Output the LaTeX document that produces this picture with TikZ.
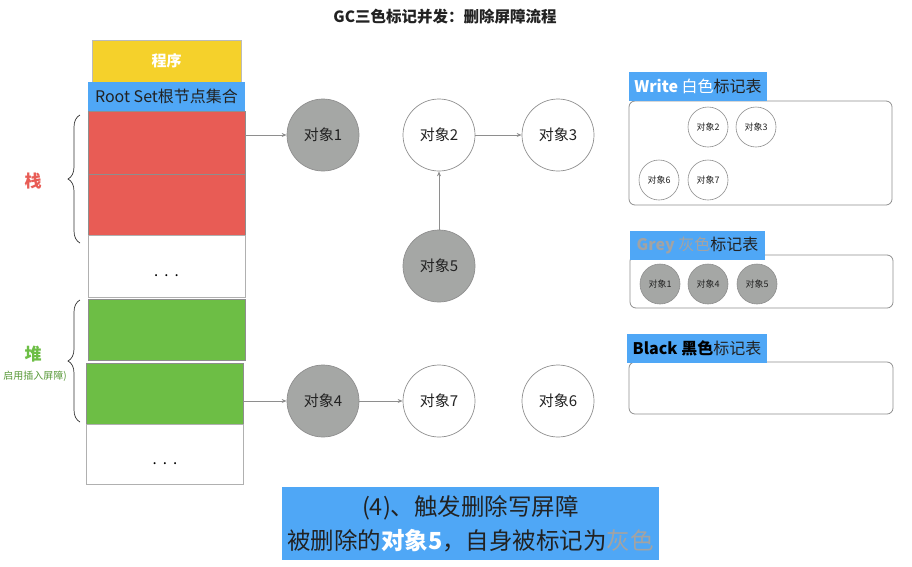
\documentclass[tikz,border=0pt]{standalone}
\usepackage{fontspec}
\setmainfont{Noto Sans CJK SC}
\usetikzlibrary{arrows.meta,decorations.pathreplacing}
\definecolor{myred}{HTML}{E85C55}
\definecolor{mygreen}{HTML}{6DBE45}
\definecolor{myblue}{HTML}{4FA7F6}
\definecolor{myyellow}{HTML}{F5D12B}
\definecolor{mygrey}{HTML}{A5A7A5}
\definecolor{lineg}{HTML}{8E8E8E}
\definecolor{txt}{HTML}{222222}
\definecolor{greytxt}{HTML}{A3A3A3}
\tikzset{
  stackbox/.style={draw=lineg, line width=1pt, minimum width=157pt, inner sep=0pt},
  dotsbox/.style={draw=lineg!70, line width=1pt, minimum width=157pt, inner sep=0pt, fill=white, text height=0pt, text depth=0pt, font=\fontsize{15}{15}\selectfont},
  obj/.style={circle, draw=lineg, line width=0.7pt, minimum size=72pt, inner sep=0pt, font=\fontsize{15}{15}\selectfont, text=txt},
  mini/.style={circle, draw=lineg, line width=0.6pt, minimum size=40pt, inner sep=0pt, font=\fontsize{9}{9}\selectfont, text=txt},
  tablebox/.style={draw=lineg, line width=0.8pt, rounded corners=6pt, inner sep=0pt},
  tlabel/.style={fill=myblue, inner sep=0pt, minimum height=29pt, font=\fontsize{16}{16}\selectfont, text=txt},
  arr/.style={draw=lineg, line width=0.8pt, -{Stealth[length=5pt,width=4pt]}},
  brace/.style={decorate, decoration={brace, amplitude=12pt}, draw=black!80, line width=0.7pt}
}
\newcommand{\mydots}{\raisebox{-10pt}{.\hspace{6pt}.\hspace{6pt}.}}
\begin{document}
\begin{tikzpicture}[x=1pt,y=-1pt]
\useasboundingbox (0,0) rectangle (912,566);
% title
\node[font=\bfseries\fontsize{15.5}{15.5}\selectfont, text=txt] (title) at (445,17) {GC三色标记并发：删除屏障流程};
% left stack
\node[fill=myyellow, draw=lineg!60, minimum width=149pt, minimum height=42pt, inner sep=0pt, text=white, font=\bfseries\fontsize{15}{15}\selectfont] (prog) at (166.5,61) {程序};
\node[fill=myblue, minimum width=157pt, minimum height=29pt, inner sep=0pt, text=txt, font=\fontsize{16}{16}\selectfont] (root) at (166.5,96.5) {Root Set根节点集合};
\node[stackbox, fill=myred, minimum height=63pt] (red1) at (166.5,142.5) {};
\node[stackbox, fill=myred, minimum height=61pt] (red2) at (166.5,204.5) {};
\node[dotsbox, minimum height=62pt] (dots1) at (166.5,266) {\mydots};
\node[stackbox, fill=mygreen, minimum height=61pt] (green1) at (166.5,329.5) {};
\node[stackbox, fill=mygreen, minimum height=61pt] (green2) at (165,393.5) {};
\node[dotsbox, minimum height=60pt] (dots2) at (165,454) {\mydots};
% braces
\coordinate (b1s) at (80,243);
\coordinate (b1e) at (80,115);
\draw[brace] (b1s) -- (b1e);
\coordinate (b2s) at (80,422);
\coordinate (b2e) at (80,300);
\draw[brace] (b2s) -- (b2e);
\node[text=myred, font=\bfseries\fontsize{17}{17}\selectfont] (zhan) at (33,181) {栈};
\node[text=mygreen, font=\bfseries\fontsize{17}{17}\selectfont] (dui) at (33,354) {堆};
\node[text=mygreen!80!black, font=\fontsize{10}{10}\selectfont] (dui2) at (35,376) {启用插入屏障)};
% objects
\node[obj, fill=mygrey] (o1) at (323,135) {对象1};
\node[obj, fill=white] (o2) at (439,135) {对象2};
\node[obj, fill=white] (o3) at (558,135) {对象3};
\node[obj, fill=mygrey] (o5) at (439,266) {对象5};
\node[obj, fill=mygrey] (o4) at (323,401) {对象4};
\node[obj, fill=white] (o7) at (439,401) {对象7};
\node[obj, fill=white] (o6) at (558,401) {对象6};
% arrows
\draw[arr] (red1.east |- o1) -- (o1.west);
\draw[arr] (green2.east |- o4) -- (o4.west);
\draw[arr] (o4) -- (o7);
\draw[arr] (o2) -- (o3);
\draw[arr] (o5) -- (o2);
% write table
\node[tablebox, minimum width=263pt, minimum height=104pt] (wt) at (760.5,153) {};
\node[tlabel, minimum width=138pt] (wl) at (698,86.5) {{\color{white}{\bfseries Write} 白色}标记表};
\node[mini, fill=white] (w2) at (708,127) {对象2};
\node[mini, fill=white] (w3) at (756,127) {对象3};
\node[mini, fill=white] (w6) at (659,180) {对象6};
\node[mini, fill=white] (w7) at (708,180) {对象7};
% grey table
\node[tablebox, minimum width=263pt, minimum height=53pt] (gt) at (761.5,281.5) {};
\node[tlabel, minimum width=135pt] (gl) at (697.5,245.5) {{\color{greytxt}{\bfseries Grey} 灰色}标记表};
\node[mini, fill=mygrey] (g1) at (660,284) {对象1};
\node[mini, fill=mygrey] (g4) at (708,284) {对象4};
\node[mini, fill=mygrey] (g5) at (757,284) {对象5};
% black table
\node[tablebox, minimum width=264pt, minimum height=52pt] (bt) at (761,388) {};
\node[tlabel, minimum width=140pt] (bl) at (697,348.5) {{\color{black}\bfseries Black 黑色}标记表};
% bottom caption
\node[fill=myblue, minimum width=377pt, minimum height=73pt, inner sep=0pt, align=center, text=txt, font=\fontsize{23.5}{34}\selectfont] (cap) at (470.5,523.5) {(4)、触发删除写屏障\\被删除的{\color{white}\bfseries 对象5}，自身被标记为{\color{greytxt}灰色}};
\end{tikzpicture}
\end{document}
